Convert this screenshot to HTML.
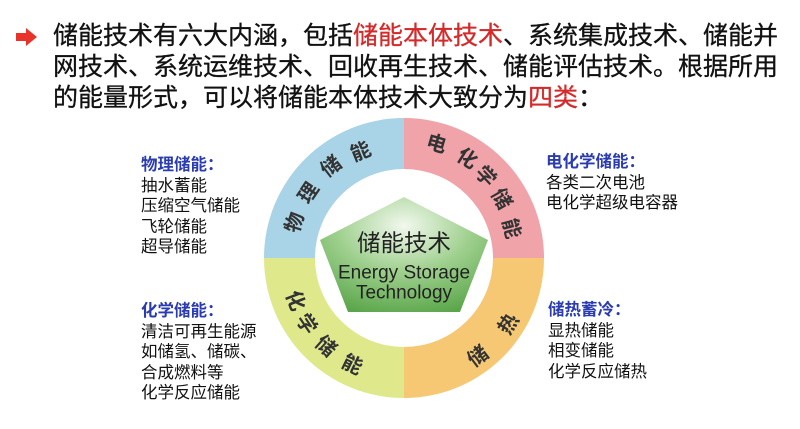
<!DOCTYPE html>
<html><head><meta charset="utf-8"><style>
body{margin:0;width:800px;height:429px;background:#fff;overflow:hidden;position:relative;font-family:"Liberation Sans","Noto Sans CJK SC",sans-serif;}
.top{position:absolute;left:53px;top:21px;font-size:25px;line-height:31px;color:#111;width:760px;white-space:nowrap;-webkit-text-stroke:0.3px #111;}
.red{color:#d42a2a;-webkit-text-stroke:0.3px #d42a2a}
.arrow{position:absolute;left:14px;top:26px;}
.blk{position:absolute;font-size:16.5px;line-height:20.5px;color:#111;white-space:nowrap;}
.blk b{color:#2a3cb0;font-weight:bold;}
</style></head><body>
<svg class="arrow" width="26" height="22" viewBox="0 0 26 22"><path d="M2 7 H12 V2 L23 11 L12 20 V15 H2 Z" fill="#e8332a"/></svg>
<div class="top">储能技术有六大内涵，包括<span class="red">储能本体技术</span>、系统集成技术、储能并<br>网技术、系统运维技术、回收再生技术、储能评估技术。根据所用<br>的能量形式，可以将储能本体技术大致分为<span class="red">四类</span>：</div>

<div class="blk" style="left:141px;top:155px"><b>物理储能：</b><br>抽水蓄能<br>压缩空气储能<br>飞轮储能<br>超导储能</div>
<div class="blk" style="left:141px;top:301px"><b>化学储能：</b><br>清洁可再生能源<br>如储氢、储碳、<br>合成燃料等<br>化学反应储能</div>
<div class="blk" style="left:546px;top:152px"><b>电化学储能：</b><br>各类二次电池<br>电化学超级电容器</div>
<div class="blk" style="left:548px;top:300px"><b>储热蓄冷：</b><br>显热储能<br>相变储能<br>化学反应储热</div>

<svg style="position:absolute;left:0;top:0" width="800" height="429">
<defs>
<radialGradient id="g" cx="0.5" cy="0.25" r="0.8">
<stop offset="0" stop-color="#f2f8ee"/><stop offset="0.5" stop-color="#9fd08e"/><stop offset="1" stop-color="#5aa64a"/></radialGradient>
</defs>
<path d="M404 258 L404 118 A140 140 0 0 0 264 258 Z" fill="#a9d3e6"/>
<path d="M404 258 L404 118 A140 140 0 0 1 544 258 Z" fill="#f0a3a9"/>
<path d="M404 258 L544 258 A140 140 0 0 1 404 398 Z" fill="#f6c874"/>
<path d="M404 258 L404 398 A140 140 0 0 1 264 258 Z" fill="#dfe98c"/>
<circle cx="404" cy="258" r="89" fill="#fff"/>
<polygon points="404,197 488,240 460,312 348,312 320,240" fill="url(#g)"/>
<g font-family="Liberation Sans, Noto Sans CJK SC, sans-serif" fill="#222" text-anchor="middle" dominant-baseline="central">
<text x="404" y="243" font-size="23.5">储能技术</text>
<text x="404" y="273" font-size="19">Energy Storage</text>
<text x="404" y="293" font-size="19">Technology</text>
</g>
<g font-family="Noto Sans CJK SC, sans-serif" font-size="20" font-weight="bold" fill="#333" text-anchor="middle" dominant-baseline="central">
<text transform="translate(293,222) rotate(-72)">物</text>
<text transform="translate(307,192) rotate(-56)">理</text>
<text transform="translate(330,165) rotate(-38)">储</text>
<text transform="translate(360,150) rotate(-22)">能</text>
<text transform="translate(437,142) rotate(16)">电</text>
<text transform="translate(468,157) rotate(32)">化</text>
<text transform="translate(487,175) rotate(47)">学</text>
<text transform="translate(503,198) rotate(60)">储</text>
<text transform="translate(513,228) rotate(75)">能</text>
<text transform="translate(507,323) rotate(-58)">热</text>
<text transform="translate(477,355) rotate(-37)">储</text>
<text transform="translate(297,300) rotate(69)">化</text>
<text transform="translate(308,323) rotate(56)">学</text>
<text transform="translate(327,345) rotate(42)">储</text>
<text transform="translate(353,363) rotate(26)">能</text>
</g>
</svg>
</body></html>
